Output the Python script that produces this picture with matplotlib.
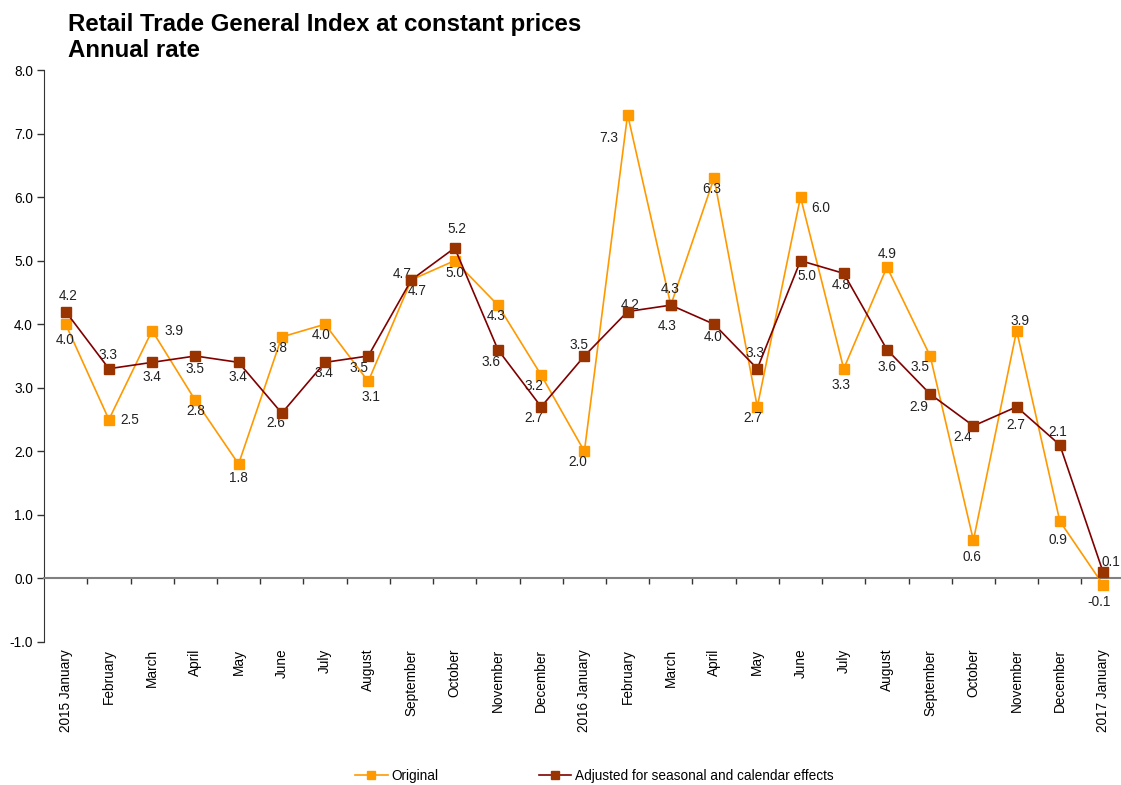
import matplotlib.pyplot as plt
import numpy as np

plt.rcParams['font.family'] = ['Liberation Sans', 'DejaVu Sans']

# meses (etiquetas del eje x)
months = ['2015 January', 'February', 'March', 'April', 'May', 'June', 'July',
          'August', 'September', 'October', 'November', 'December',
          '2016 January', 'February', 'March', 'April', 'May', 'June', 'July',
          'August', 'September', 'October', 'November', 'December',
          '2017 January']

original = [4.0, 2.5, 3.9, 2.8, 1.8, 3.8, 4.0, 3.1, 4.7, 5.0, 4.3, 3.2,
            2.0, 7.3, 4.3, 6.3, 2.7, 6.0, 3.3, 4.9, 3.5, 0.6, 3.9, 0.9,
            -0.1]
adjusted = [4.2, 3.3, 3.4, 3.5, 3.4, 2.6, 3.4, 3.5, 4.7, 5.2, 3.6, 2.7,
            3.5, 4.2, 4.3, 4.0, 3.3, 5.0, 4.8, 3.6, 2.9, 2.4, 2.7, 2.1,
            0.1]

yticks = np.arange(-1.0, 8.01, 1.0)

# desplazamientos de las etiquetas (pixeles)
orig_off = [(-1, -16), (21, 0), (22, 0), (0, -11), (0, -14), (-4, -11),
            (-4, -11), (3, -16), (6, -11), (0, -12), (-2, -11), (-7, -11),
            (-7, -11), (-19, -23), (-1, 16), (-2, -11), (-4, -11), (20, -11),
            (-3, -16), (0, 13), (-10, -11), (-1, -17), (3, 10), (-2, -19),
            (-4, -17)]
adj_off = [(2, 16), (-1, 14), (0, -15), (0, -13), (-1, -15), (-6, -10),
           (-1, -11), (-9, -12), (-9, 6), (2, 19), (-7, -12), (-7, -11),
           (-5, 11), (3, 7), (-4, -21), (-1, -13), (-2, 16), (6, -15),
           (-3, -12), (0, -17), (-11, -13), (-11, -11), (-1, -18), (-2, 13),
           (8, 10)]

c_orig = '#FF9900'
c_adj_line = '#800000'
c_adj_mark = '#993300'
fs = 9.8

fig = plt.figure(figsize=(11.21, 7.85), dpi=100)
ax = fig.add_axes([0.0393, 0.1822, 0.964, 0.7286])

x = np.arange(len(months))
ax.plot(x, original, color=c_orig, lw=1.2, marker='s', ms=7,
        mfc=c_orig, mec=c_orig, label='Original', zorder=3)
ax.plot(x, adjusted, color=c_adj_line, lw=1.2, marker='s', ms=7,
        mfc=c_adj_mark, mec=c_adj_mark,
        label='Adjusted for seasonal and calendar effects', zorder=4)

for xi, v, off in zip(x, original, orig_off):
    ax.annotate(f'{v:.1f}', (xi, v), xytext=off, textcoords='offset pixels',
                ha='center', va='center', fontsize=fs, color='#222222')
for xi, v, off in zip(x, adjusted, adj_off):
    ax.annotate(f'{v:.1f}', (xi, v), xytext=off, textcoords='offset pixels',
                ha='center', va='center', fontsize=fs, color='#222222')

ax.set_xlim(-0.5, len(months) - 0.5)
ax.set_ylim(-1.0, 8.0)
ax.set_yticks(yticks)
ax.set_yticklabels([f'{t:.1f}' for t in yticks], fontsize=fs)
ax.tick_params(axis='y', direction='out', length=5, width=1, color='#333333', pad=3)

# eje x en el cero, con marcas entre categorías
for s in ['top', 'right']:
    ax.spines[s].set_visible(False)
ax.spines['left'].set_color('#333333')
ax.spines['bottom'].set_position(('data', 0))
ax.spines['bottom'].set_color('#808080')
ax.spines['bottom'].set_linewidth(1.5)
ax.set_xticks(x + 0.5, minor=True)
ax.set_xticks([])
ax.tick_params(axis='x', which='minor', direction='out', length=4, width=1,
               color='#333333')

for xi, lab in zip(x, months):
    ax.text(xi, -0.012, lab, transform=ax.get_xaxis_transform(), rotation=90,
            ha='center', va='top', fontsize=fs)

fig.text(0.0607, 0.984, 'Retail Trade General Index at constant prices\nAnnual rate',
         fontsize=17.3, fontweight='bold', ha='left', va='top', linespacing=1.2)

fig.legend(loc='center', bbox_to_anchor=(0.530, 0.0115), ncol=2, frameon=False,
           fontsize=fs, handlelength=2.4, handletextpad=0.25, columnspacing=7.4,
           markerscale=0.9)

fig.savefig('out.png', dpi=100)
